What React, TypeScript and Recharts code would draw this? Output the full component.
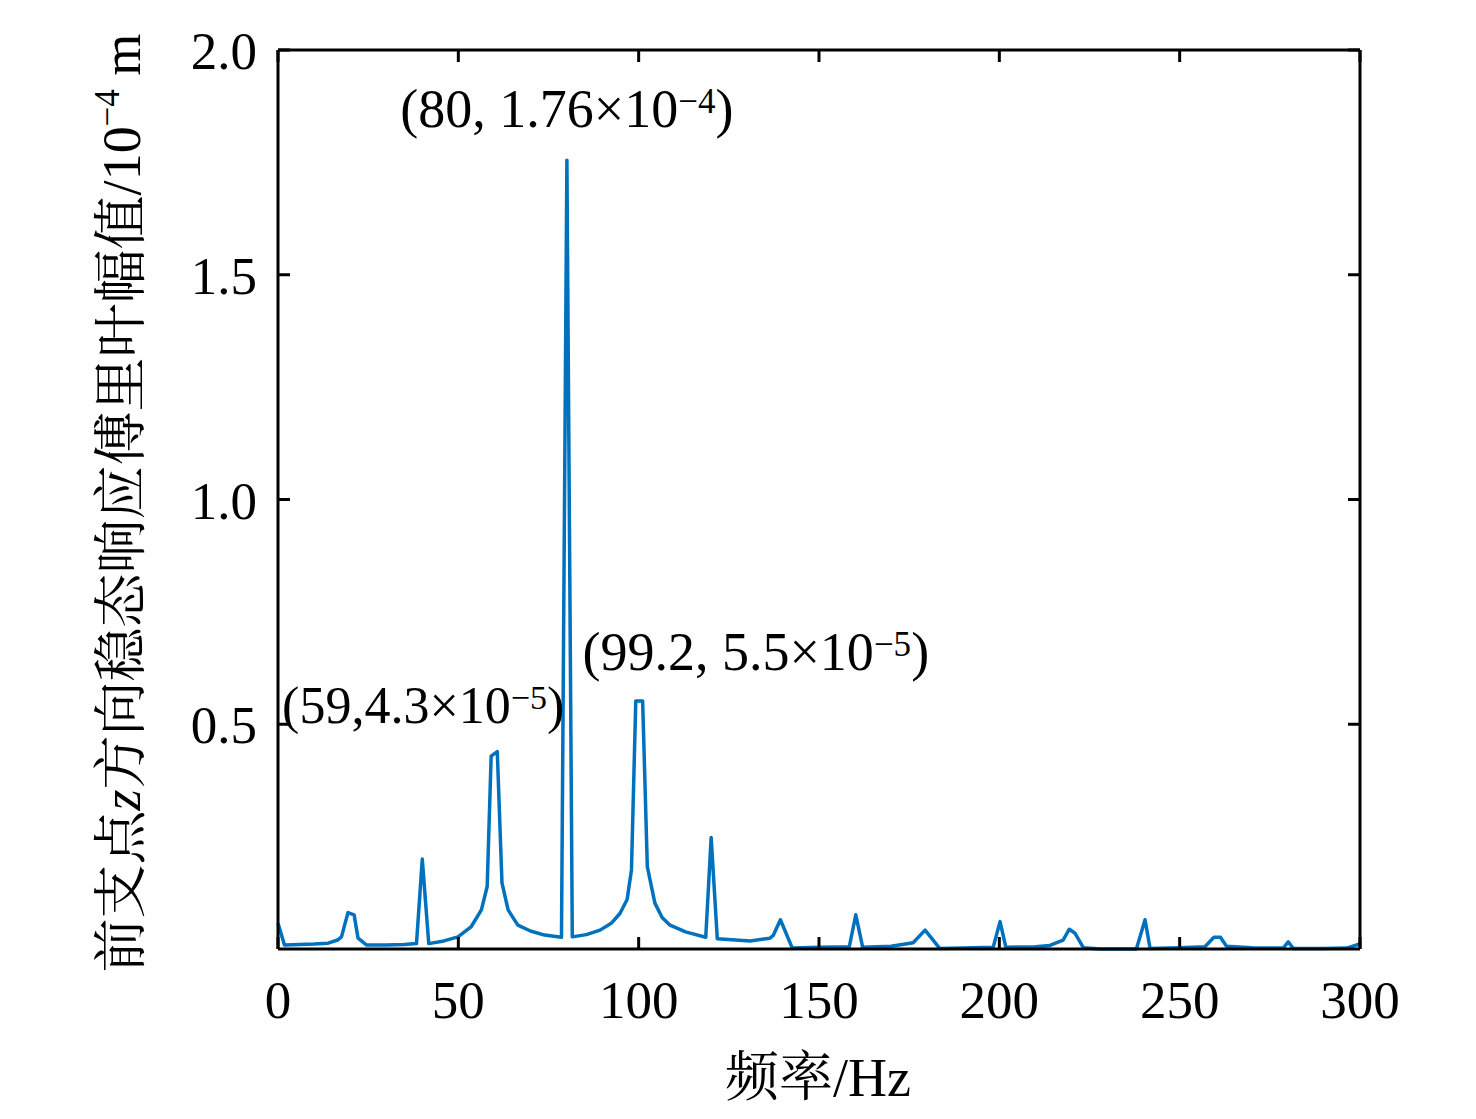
import { LineChart, Line, XAxis, YAxis, ReferenceDot } from 'recharts';

// spectrum (Hz, 10^-4 m)
const freq = [
  0, 1.8, 6, 10, 13.9, 16.5, 17.6, 19.4, 21.1, 22.2, 24.5, 30, 35, 38.4, 40.0,
  41.8, 46, 49.9, 53.6, 56.4, 58.0, 59.1, 60.8, 62.1, 63.8, 66.5, 70, 73.9,
  78.6, 80.1, 81.6, 85.5, 89.3, 92.5, 94.8, 96.8, 98.0, 99.2, 101.1, 102.4,
  104.5, 106.5, 108.7, 113, 118.6, 120.1, 121.8, 130.9, 136.4, 137.3, 139.3,
  142.6, 150, 158.4, 160.2, 162.1, 170, 176.1, 179.4, 181.2, 183.5, 190, 198.3,
  200.2, 201.8, 210, 214, 217.7, 219.4, 221, 223.3, 228, 238, 240.4, 241.8,
  250, 257, 259.5, 261.3, 263, 270, 278.7, 280.1, 281.5, 290, 296.3, 299.5, 300,
];
const amp = [
  0.057, 0.009, 0.01, 0.011, 0.013, 0.02, 0.027, 0.081, 0.076, 0.024, 0.009,
  0.009, 0.01, 0.012, 0.2, 0.012, 0.018, 0.027, 0.05, 0.087, 0.139, 0.429,
  0.439, 0.147, 0.087, 0.053, 0.04, 0.031, 0.026, 1.755, 0.027, 0.032, 0.042,
  0.058, 0.079, 0.11, 0.176, 0.552, 0.552, 0.183, 0.102, 0.07, 0.053, 0.038,
  0.026, 0.248, 0.023, 0.018, 0.024, 0.03, 0.065, 0.002, 0.004, 0.005, 0.076,
  0.004, 0.006, 0.014, 0.042, 0.024, 0.001, 0.002, 0.004, 0.061, 0.004, 0.005,
  0.008, 0.02, 0.044, 0.035, 0.003, 0, 0, 0.065, 0.001, 0.003, 0.005, 0.026,
  0.026, 0.006, 0.003, 0.002, 0.016, 0.001, 0.001, 0.002, 0.01, 0.012,
];
const xTicks = [0, 50, 100, 150, 200, 250, 300];
const yTicks = [0.5, 1.0, 1.5, 2.0];

const peaks = [
  { f: 80.1, a: 1.755, head: '(80, 1.76×10', exp: '−4' },
  { f: 59.1, a: 0.429, head: '(59,4.3×10', exp: '−5' },
  { f: 99.2, a: 0.552, head: '(99.2, 5.5×10', exp: '−5' },
];
// pixel offset and size of each note
const noteStyles = [
  { dx: 0, dy: -33, size: 54 },
  { dx: -68, dy: -33, size: 52 },
  { dx: 120, dy: -31, size: 54 },
];

const data = freq.map((f, i) => ({ f, a: amp[i] }));

const SERIF =
  '"Liberation Serif", "Times New Roman", "Noto Serif CJK SC", "Noto Sans CJK SC", serif';
const TICK = 12;

function BottomTick({ x, y, payload }: any) {
  return (
    <g>
      <line x1={x} y1={y} x2={x} y2={y - TICK} stroke="#000" strokeWidth={3} />
      <text x={x} y={y + 69} textAnchor="middle" fontFamily={SERIF} fontSize={53} fill="#000">
        {payload.value}
      </text>
    </g>
  );
}

function TopTick({ x, y }: any) {
  return <line x1={x} y1={y} x2={x} y2={y + TICK} stroke="#000" strokeWidth={3} />;
}

function LeftTick({ x, y, payload }: any) {
  return (
    <g>
      <line x1={x} y1={y} x2={x + TICK} y2={y} stroke="#000" strokeWidth={3} />
      <text x={x - 21} y={y + 19} textAnchor="end" fontFamily={SERIF} fontSize={53} fill="#000">
        {Number(payload.value).toFixed(1)}
      </text>
    </g>
  );
}

function RightTick({ x, y }: any) {
  return <line x1={x} y1={y} x2={x - TICK} y2={y} stroke="#000" strokeWidth={3} />;
}

function note(i: number) {
  const p = peaks[i];
  const s = noteStyles[i];
  const sup = Math.round(s.size * 0.65);
  return ({ cx, cy }: any) => (
    <text
      x={cx + s.dx}
      y={cy + s.dy}
      textAnchor="middle"
      fontFamily={SERIF}
      fontSize={s.size}
      fill="#000"
    >
      {p.head}
      <tspan fontSize={sup} dy={-14}>
        {p.exp}
      </tspan>
      <tspan dy={14}>)</tspan>
    </text>
  );
}

export default function App() {
  return (
    <div style={{ position: 'relative', width: 1460, height: 1104 }}>
      <LineChart
        width={1460}
        height={1104}
        data={data}
        margin={{ top: 41, right: 107, bottom: 103, left: 170 }}
      >
        <XAxis
          dataKey="f"
          type="number"
          domain={[0, 300]}
          ticks={xTicks}
          height={60}
          tickSize={0}
          tickMargin={0}
          tickLine={false}
          axisLine={{ stroke: '#000', strokeWidth: 3 }}
          tick={BottomTick}
          interval={0}
        />
        <XAxis
          xAxisId="top"
          orientation="top"
          dataKey="f"
          type="number"
          domain={[0, 300]}
          ticks={xTicks}
          height={1}
          tickSize={0}
          tickMargin={0}
          tickLine={false}
          axisLine={{ stroke: '#000', strokeWidth: 3 }}
          tick={TopTick}
          interval={0}
        />
        <YAxis
          type="number"
          domain={[0, 2]}
          ticks={yTicks}
          width={100}
          tickSize={0}
          tickMargin={0}
          tickLine={false}
          axisLine={{ stroke: '#000', strokeWidth: 3 }}
          tick={LeftTick}
          interval={0}
        />
        <YAxis
          yAxisId="right"
          orientation="right"
          type="number"
          domain={[0, 2]}
          ticks={yTicks}
          width={1}
          tickSize={0}
          tickMargin={0}
          tickLine={false}
          axisLine={{ stroke: '#000', strokeWidth: 3 }}
          tick={RightTick}
          interval={0}
        />
        <Line
          xAxisId="top"
          yAxisId="right"
          dataKey="a"
          stroke="none"
          strokeWidth={0}
          dot={false}
          legendType="none"
          isAnimationActive={false}
        />
        <Line
          dataKey="a"
          type="linear"
          stroke="#0072BD"
          strokeWidth={3.5}
          strokeLinejoin="round"
          dot={false}
          isAnimationActive={false}
        />
        {peaks.map((p, i) => (
          <ReferenceDot
            key={i}
            x={p.f}
            y={p.a}
            r={1}
            shape={note(i)}
            ifOverflow="visible"
          />
        ))}
      </LineChart>
      <svg
        width={1460}
        height={1111}
        style={{ position: 'absolute', left: 0, top: 0, pointerEvents: 'none' }}
      >
        <text
          x={114}
          y={495}
          transform="rotate(-90 114 495)"
          textAnchor="middle"
          dominantBaseline="central"
          fontFamily={SERIF}
          fontSize={54}
          fill="#000"
        >
          前支点<tspan fontStyle="italic">z</tspan>方向稳态响应傅里叶幅值/10
          <tspan fontSize={35} dy={-15}>
            −4
          </tspan>
          <tspan dy={15}> m</tspan>
        </text>
        <text
          x={810}
          y={1088}
          textAnchor="middle"
          fontFamily={SERIF}
          fontSize={54}
          fill="#000"
        >
          频率/Hz
        </text>
      </svg>
    </div>
  );
}
